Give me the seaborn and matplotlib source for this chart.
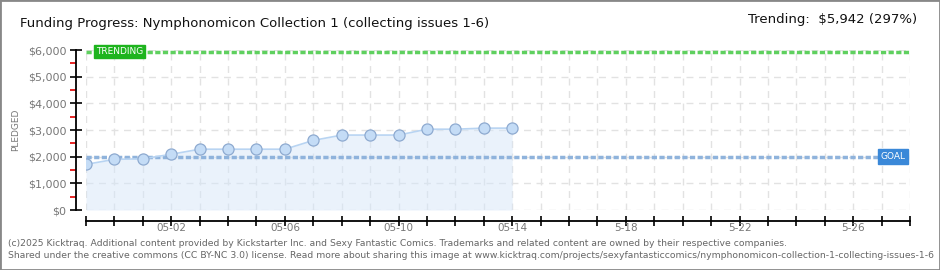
import matplotlib
matplotlib.use("Agg")
import matplotlib.pyplot as plt
import matplotlib.dates as mdates
from matplotlib.patches import Rectangle
from matplotlib.ticker import MultipleLocator, FuncFormatter
import seaborn as sns
import pandas as pd
import numpy as np

# ---- data ----
dates = pd.date_range("2025-04-29", "2025-05-14", freq="D")
pledged = [1710, 1900, 1920, 2090, 2280, 2280, 2280, 2280,
           2610, 2810, 2810, 2810, 3030, 3030, 3070, 3070]
goal = 2000
trending = 5942
title = "Funding Progress: Nymphonomicon Collection 1 (collecting issues 1-6)"
trend_text = "Trending:  $5,942 (297%)"
x_start = "2025-04-29"
x_end = "2025-05-28"
tick_label_dates = ["2025-05-02", "2025-05-06", "2025-05-10", "2025-05-14",
                    "2025-05-18", "2025-05-22", "2025-05-26"]
tick_label_texts = ["05-02", "05-06", "05-10", "05-14", "5-18", "5-22", "5-26"]
footer1 = ("(c)2025 Kicktraq. Additional content provided by Kickstarter Inc. and Sexy Fantastic Comics. "
           "Trademarks and related content are owned by their respective companies.")
footer2 = ("Shared under the creative commons (CC BY-NC 3.0) license. Read more about sharing this image at "
           "www.kicktraq.com/projects/sexyfantasticcomics/nymphonomicon-collection-1-collecting-issues-1-6")

df = pd.DataFrame({"date": dates, "pledged": pledged})

sns.set_style("white")
plt.rcParams["font.family"] = ["DejaVu Sans"]

W, H = 940, 270
fig = plt.figure(figsize=(W / 100, H / 100), dpi=100)
ax = fig.add_axes([86 / W, 1 - 210 / H, (910 - 86) / W, (210 - 50) / H])

xs = mdates.date2num(pd.Timestamp(x_start))
xe = mdates.date2num(pd.Timestamp(x_end))
ax.set_xlim(xs, xe)
ax.set_ylim(0, 6000)

# grid
ax.grid(True, which="major", axis="y", color="#e2e2e2", linestyle=(0, (5, 4)), linewidth=1)
ax.xaxis.set_major_locator(mdates.DayLocator())
ax.grid(True, which="major", axis="x", color="#e2e2e2", linestyle=(0, (5, 4)), linewidth=1)
ax.set_axisbelow(True)

# fill
ax.fill_between(mdates.date2num(df["date"]), df["pledged"], 0, color="#d6e6f9",
                alpha=0.5, linewidth=0, zorder=1)

# goal and trending lines
ax.axhline(goal, color="#8fb3dc", linestyle=(0, (1.5, 0.7)), linewidth=2.5, zorder=2)
ax.axhline(trending, color="#5fd05f", linestyle=(0, (1.5, 0.7)), linewidth=2.5, zorder=2, clip_on=False)

sns.lineplot(data=df, x="date", y="pledged", ax=ax, color="#b8d4f2", linewidth=1.2,
             marker="o", markersize=8, markerfacecolor="#c4dcf6",
             markeredgecolor="#8eaad0", markeredgewidth=0.9, zorder=4)

# ticks
ax.yaxis.set_major_locator(MultipleLocator(1000))
ax.yaxis.set_minor_locator(MultipleLocator(500))
ax.yaxis.set_major_formatter(FuncFormatter(lambda v, p: f"${int(v):,}"))
ax.tick_params(axis="y", which="major", direction="inout", length=8, width=1.2,
               color="black", labelcolor="#777777", labelsize=8, pad=3, left=True)
ax.tick_params(axis="y", which="minor", direction="out", length=4, width=1.2,
               color="#e00000", left=True)
ax.xaxis.remove_overlapping_locs = False
ax.set_xticks(mdates.date2num(pd.to_datetime(tick_label_dates)), minor=True)
ax.xaxis.set_minor_formatter(plt.FixedFormatter(tick_label_texts))
ax.xaxis.set_major_formatter(plt.NullFormatter())
ax.tick_params(axis="x", which="major", direction="inout", length=7, width=1.2,
               color="black", bottom=True)
ax.tick_params(axis="x", which="minor", direction="in", length=0, labelcolor="#777777",
               labelsize=7.5, pad=1.5, bottom=True)

for s in ["top", "right"]:
    ax.spines[s].set_visible(False)
ax.spines["left"].set_position(("outward", 7.2))
ax.spines["bottom"].set_position(("outward", 8))
ax.spines["left"].set_color("black")
ax.spines["bottom"].set_color("black")
ax.spines["left"].set_linewidth(1.3)
ax.spines["bottom"].set_linewidth(1.3)

ax.set_xlabel("")
ax.set_ylabel("PLEDGED", fontsize=6.5, color="#777777")
ax.yaxis.set_label_coords((20 - 86) / (910 - 86), (210 - 130) / 160)

# labels on lines
ax.text(mdates.date2num(pd.Timestamp("2025-04-29")) + 0.35, trending, "TRENDING",
        fontsize=6.5, color="white", va="center", ha="left", zorder=6,
        bbox=dict(boxstyle="square,pad=0.25", fc="#1eb41e", ec="#1eb41e"))
ax.text(xe - 0.15, goal, "GOAL", fontsize=6.5, color="white", va="center", ha="right", zorder=6,
        bbox=dict(boxstyle="square,pad=0.3", fc="#3a88d8", ec="#3a88d8"))

# titles
fig.text(20 / W, 1 - 24 / H, title, fontsize=9.5, color="#111111", va="center", ha="left")
fig.text(917 / W, 1 - 20 / H, trend_text, fontsize=9.5, color="#111111", va="center", ha="right")
fig.text(8 / W, 1 - 243 / H, footer1, fontsize=6.7, color="#666666", va="center", ha="left")
fig.text(8 / W, 1 - 256 / H, footer2, fontsize=6.7, color="#666666", va="center", ha="left")

# border
fig.patches.append(Rectangle((0, 0), 1, 1, transform=fig.transFigure, fill=False,
                             edgecolor="#888888", linewidth=2))

fig.savefig("out.png", dpi=100)
